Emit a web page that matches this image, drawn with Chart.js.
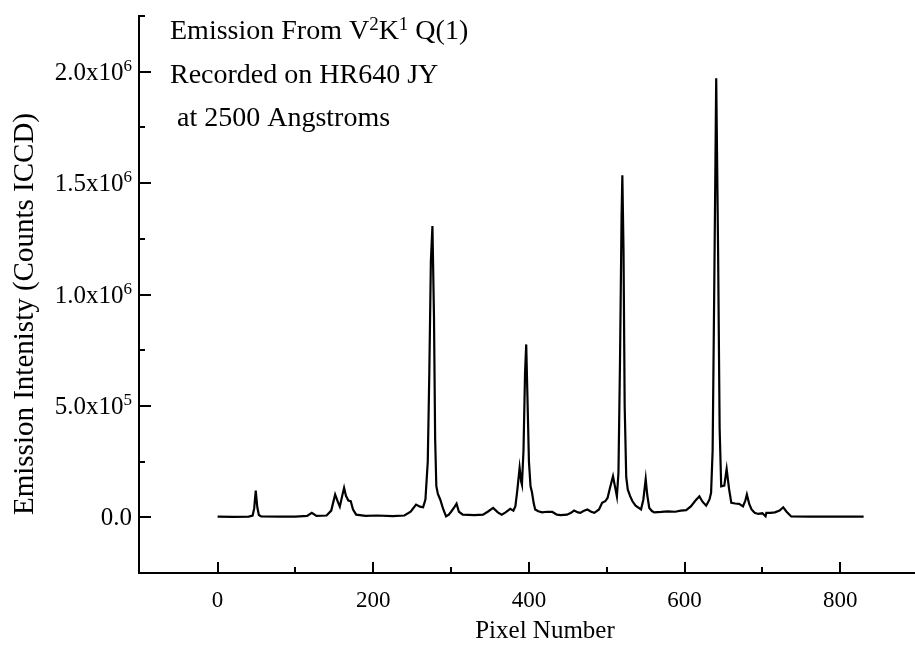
<!DOCTYPE html>
<html>
<head>
<meta charset="utf-8">
<script src="https://cdn.jsdelivr.net/npm/chart.js@4.4.1/dist/chart.umd.min.js"></script>
<style>
  html, body { margin: 0; padding: 0; background: #fff; }
  #wrap { width: 915px; height: 654px; }
</style>
</head>
<body>
<div id="wrap"><canvas id="grafico"></canvas></div>
<script>
// pixel number on the detector vs counts
const pixel = [
  0, 20, 40, 45, 47, 49, 51, 53, 56, 80, 100, 115, 121, 127, 140, 146, 151, 155, 157, 160,
  162.5, 165, 168, 171, 174, 178, 190, 205, 225, 240, 248, 255, 260, 264, 267, 270, 272, 274, 276, 278,
  279.5, 281, 283, 286, 290, 293.5, 297, 300, 304, 307, 310, 315, 330, 341, 347, 354, 360, 365, 370, 376,
  380, 382.6, 385, 388, 390, 391, 393, 395, 396.5, 398, 400, 402, 404, 406, 408, 412, 417, 423, 430, 436,
  441, 449, 454, 458, 463, 466, 470, 475, 480, 484, 490, 494, 498, 501, 504, 508, 511, 513, 515, 517,
  519, 520, 521.5, 523, 525, 527, 530, 533, 537, 544, 547, 550, 552, 554.6, 558, 561, 570, 578, 588, 595,
  602, 608, 614, 619, 623, 627.7, 632, 634, 636, 638, 640.6, 643, 645, 647, 651, 654, 657, 660, 665, 670,
  675, 678, 680, 683, 686, 690, 694.5, 700, 704, 705, 710, 716, 722, 726.7, 731, 737, 760, 800, 830
]
const counts = [
  3000, 2000, 3000, 8000, 40000, 120000, 45000, 10000, 4000, 3000, 3000, 6000, 20000, 6000, 8000, 30000, 102000, 65000, 48000, 95000,
  132000, 95000, 75000, 72000, 35000, 12000, 6000, 8000, 5000, 8000, 25000, 57000, 48000, 45000, 80000, 250000, 650000, 1150000, 1307000, 900000,
  350000, 140000, 105000, 80000, 35000, 4000, 12000, 25000, 45000, 61000, 25000, 12000, 10000, 12000, 25000, 42000, 22000, 12000, 22000, 38000,
  30000, 50000, 120000, 222000, 160000, 147000, 300000, 650000, 776000, 550000, 250000, 140000, 110000, 65000, 35000, 27000, 22000, 25000, 24000, 12000,
  10000, 12000, 20000, 30000, 22000, 20000, 28000, 35000, 25000, 20000, 35000, 65000, 72000, 87000, 130000, 184000, 130000, 94000, 200000, 700000,
  1350000, 1535000, 1200000, 500000, 180000, 124000, 95000, 72000, 52000, 35000, 80000, 172000, 100000, 42000, 28000, 22000, 24000, 27000, 25000, 30000,
  32000, 49000, 75000, 94000, 70000, 52000, 80000, 110000, 300000, 1000000, 1971000, 1200000, 400000, 139000, 142000, 217000, 130000, 65000, 62000, 60000,
  49000, 75000, 102000, 60000, 35000, 20000, 15000, 18000, 4000, 20000, 20000, 22000, 30000, 45000, 25000, 4000, 3000, 3000, 3000
]

const xTicks = [0, 200, 400, 600, 800]
const xMinorTicks = [100, 300, 500, 700]
const yTicks = [0, 500000, 1000000, 1500000, 2000000]
const yTickLabels = ["0.0", "5.0x10", "1.0x10", "1.5x10", "2.0x10"]
const yTickExp = ["", "5", "6", "6", "6"]
const yMinorTicks = [250000, 750000, 1250000, 1750000, 2250000]
// each line is a list of [text, superscript?]
const anotacao = [
  [["Emission From V", false], ["2", true], ["K", false], ["1", true], [" Q(1)", false]],
  [["Recorded on HR640 JY", false]],
  [[" at 2500 Angstroms", false]]
]
const tituloX = "Pixel Number"
const tituloY = "Emission Intenisty (Counts ICCD)"

const fonte = "'Liberation Serif', 'Times New Roman', serif"

function textoComExpoente(ctx, partes, x, y, tam, tamSup, subida) {
  let cx = x
  partes.forEach(([t, sup]) => {
    ctx.font = (sup ? tamSup : tam) + "px " + fonte
    ctx.fillText(t, cx, sup ? y - subida : y)
    cx += ctx.measureText(t).width
  })
  return cx - x
}

// marcas dos eixos para dentro + textos
const extras = {
  id: "extras",
  afterDraw(chart) {
    const { ctx, chartArea, scales } = chart
    const xs = scales.x, ys = scales.y
    ctx.save()
    ctx.strokeStyle = "#000"
    ctx.lineWidth = 2
    ctx.beginPath()
    xTicks.forEach((v) => {
      const px = Math.round(xs.getPixelForValue(v))
      ctx.moveTo(px, chartArea.bottom); ctx.lineTo(px, chartArea.bottom - 11)
    })
    xMinorTicks.forEach((v) => {
      const px = Math.round(xs.getPixelForValue(v))
      ctx.moveTo(px, chartArea.bottom); ctx.lineTo(px, chartArea.bottom - 6)
    })
    yTicks.forEach((v) => {
      const py = Math.round(ys.getPixelForValue(v))
      ctx.moveTo(chartArea.left, py); ctx.lineTo(chartArea.left + 12, py)
    })
    yMinorTicks.forEach((v) => {
      const py = Math.round(ys.getPixelForValue(v))
      ctx.moveTo(chartArea.left, py); ctx.lineTo(chartArea.left + 6, py)
    })
    ctx.stroke()

    ctx.fillStyle = "#000"
    ctx.textBaseline = "alphabetic"
    ctx.textAlign = "left"

    // rotulos do eixo y com expoente
    yTicks.forEach((v, i) => {
      const py = ys.getPixelForValue(v)
      const partes = [[yTickLabels[i], false]]
      if (yTickExp[i]) partes.push([yTickExp[i], true])
      ctx.font = "25px " + fonte
      let w = ctx.measureText(yTickLabels[i]).width
      if (yTickExp[i]) { ctx.font = "17px " + fonte; w += ctx.measureText(yTickExp[i]).width }
      textoComExpoente(ctx, partes, chartArea.left - 7 - w, py + 8, 25, 17, 9)
    })

    const baselines = [39, 83, 126]
    anotacao.forEach((linha, i) => textoComExpoente(ctx, linha, 170, baselines[i], 28, 19, 9))

    ctx.font = "25px " + fonte
    ctx.textAlign = "center"
    ctx.textBaseline = "middle"
    ctx.fillText(tituloX, 545, 631)

    ctx.font = "29px " + fonte
    ctx.translate(25, 314)
    ctx.rotate(-Math.PI / 2)
    ctx.fillText(tituloY, 0, 0)
    ctx.restore()
  }
}

new Chart(document.getElementById("grafico"), {
  type: "line",
  data: {
    datasets: [{
      data: pixel.map((p, i) => ({ x: p, y: counts[i] })),
      borderColor: "#000",
      borderWidth: 2.2,
      pointRadius: 0,
      tension: 0,
      fill: false
    }]
  },
  options: {
    responsive: true,
    maintainAspectRatio: false,
    animation: false,
    layout: { padding: { top: 16, right: 0, left: 0, bottom: 0 } },
    plugins: { legend: { display: false }, tooltip: { enabled: false } },
    scales: {
      x: {
        type: "linear",
        min: -101,
        max: 896,
        grid: { display: false, drawTicks: false },
        border: { display: true, color: "#000", width: 2 },
        afterBuildTicks: (s) => { s.ticks = xTicks.map((v) => ({ value: v })) },
        afterFit: (s) => { s.height = 81 },
        ticks: {
          padding: 14,
          color: "#000",
          font: { family: fonte, size: 23 },
          callback: (v) => String(v)
        }
      },
      y: {
        min: -250000,
        max: 2250000,
        grid: { display: false, drawTicks: false },
        border: { display: true, color: "#000", width: 2 },
        afterBuildTicks: (s) => { s.ticks = yTicks.map((v) => ({ value: v })) },
        afterFit: (s) => { s.width = 139 },
        ticks: { display: false }
      }
    }
  },
  plugins: [extras]
})
</script>
</body>
</html>
